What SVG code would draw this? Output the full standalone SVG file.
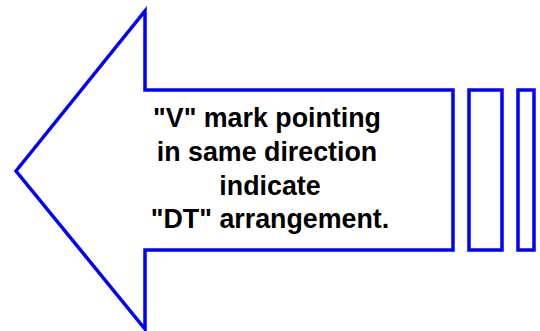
<svg xmlns="http://www.w3.org/2000/svg" width="540" height="331" viewBox="0 0 540 331">
<style>
.shape{fill:#fff;stroke:#0000ff;stroke-width:3.5;stroke-linejoin:miter}
.lbl{font-family:"Liberation Sans",Arial,sans-serif;font-weight:bold;font-size:26.8px;fill:#000;text-anchor:middle}
</style>
<rect width="540" height="331" fill="#fff"/>
<g id="arrow">
<polygon class="shape" points="16,171 145,11 145,90 453,90 453,250 145,250 145,329"/>
<text class="lbl" x="267" y="127">"V" mark pointing</text>
<text class="lbl" x="267" y="161">in same direction</text>
<text class="lbl" x="270" y="194.5">indicate</text>
<text class="lbl" x="270" y="228">"DT" arrangement.</text>
</g>
<g id="bar1"><rect class="shape" x="469" y="90" width="33" height="160"/></g>
<g id="bar2"><rect class="shape" x="518" y="90" width="16" height="160"/></g>
<g id="connectors"></g>
</svg>
